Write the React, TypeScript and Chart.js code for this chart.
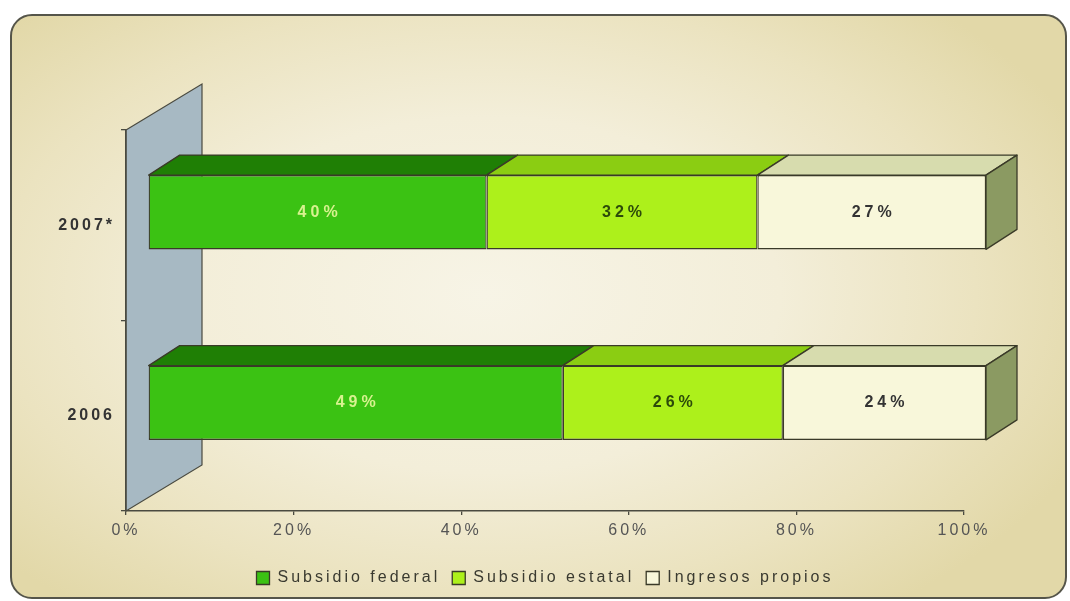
import React, { useEffect, useRef } from 'react';
import { Chart, registerables } from 'chart.js';

Chart.register(...registerables);

// ---- data ----
const categories = ['2007*', '2006'];
const subsidioFederal = [40, 49];
const subsidioEstatal = [32, 26];
const ingresosPropios = [27, 24];
const seriesNames = ['Subsidio federal', 'Subsidio estatal', 'Ingresos propios'];
const xTicks = [0, 20, 40, 60, 80, 100];

// ---- styles ----
const FRONT = ['#3bc213', '#adf01b', '#f8f7da'];
const TOP = ['#1f7f05', '#8bcd12', '#d7dcae'];
const SIDE = '#8b9a62';
const EDGE = '#3a3a28';
const LABEL_COLORS = ['#d8f290', '#2c4a0a', '#333333'];
const FONT = '"Liberation Sans", Arial, sans-serif';

const DX = 31;
const DY = 20;
const WALL_DX = 76;
const WALL_DY = 46;
const SHIFT_X = 22;
const SHIFT_Y = -13;

const rawSeries = [subsidioFederal, subsidioEstatal, ingresosPropios];
const totals = categories.map((_, i) => rawSeries.reduce((s, arr) => s + arr[i], 0));
const shares = rawSeries.map((arr) => arr.map((v, i) => (v / totals[i]) * 100));

const bars3d = {
  id: 'bars3d',
  beforeLayout(chart: any) {
    chart.ctx.letterSpacing = '3px';
  },
  beforeDraw(chart: any) {
    const ctx = chart.ctx;
    ctx.letterSpacing = '3px';
    const { top, bottom } = chart.chartArea;
    const x0 = chart.scales.x.getPixelForValue(0);
    ctx.save();
    ctx.beginPath();
    ctx.moveTo(x0, top);
    ctx.lineTo(x0 + WALL_DX, top - WALL_DY);
    ctx.lineTo(x0 + WALL_DX, bottom - WALL_DY);
    ctx.lineTo(x0, bottom);
    ctx.closePath();
    ctx.fillStyle = '#a7b9c3';
    ctx.fill();
    ctx.strokeStyle = '#4a4a40';
    ctx.lineWidth = 1.2;
    ctx.stroke();
    ctx.restore();
  },
  beforeDatasetsDraw(chart: any) {
    chart.ctx.save();
    chart.ctx.translate(SHIFT_X, SHIFT_Y);
  },
  afterDatasetsDraw(chart: any) {
    const ctx = chart.ctx;
    const n = chart.data.datasets.length;
    const labels: any[] = [];
    chart.data.datasets.forEach((ds: any, di: number) => {
      const meta = chart.getDatasetMeta(di);
      meta.data.forEach((bar: any, i: number) => {
        const p = bar.getProps(['x', 'y', 'base', 'height'], true);
        const t = p.y - p.height / 2;
        const b = p.y + p.height / 2;
        const l = Math.min(p.base, p.x);
        const r = Math.max(p.base, p.x);
        ctx.save();
        ctx.lineJoin = 'round';
        ctx.beginPath();
        ctx.moveTo(l, t);
        ctx.lineTo(r, t);
        ctx.lineTo(r + DX, t - DY);
        ctx.lineTo(l + DX, t - DY);
        ctx.closePath();
        ctx.fillStyle = TOP[di];
        ctx.fill();
        ctx.strokeStyle = EDGE;
        ctx.lineWidth = 1.3;
        ctx.stroke();
        if (di === n - 1) {
          ctx.beginPath();
          ctx.moveTo(r, t);
          ctx.lineTo(r + DX, t - DY);
          ctx.lineTo(r + DX, b - DY);
          ctx.lineTo(r, b);
          ctx.closePath();
          ctx.fillStyle = SIDE;
          ctx.fill();
          ctx.stroke();
        }
        ctx.restore();
        labels.push({ x: (l + r) / 2, y: p.y, text: ds.rawValues[i] + '%', color: LABEL_COLORS[di] });
      });
    });
    ctx.save();
    ctx.font = 'bold 16px ' + FONT;
    ctx.letterSpacing = '4px';
    ctx.textAlign = 'center';
    ctx.textBaseline = 'middle';
    labels.forEach((lb) => {
      ctx.fillStyle = lb.color;
      ctx.fillText(lb.text, lb.x + 2, lb.y);
    });
    ctx.restore();
    ctx.restore();
  },
};

export default function App() {
  const canvasRef = useRef<HTMLCanvasElement | null>(null);

  useEffect(() => {
    if (!canvasRef.current) return;
    const chart = new Chart(canvasRef.current, {
      type: 'bar',
      data: {
        labels: categories,
        datasets: seriesNames.map((name, di) => ({
          label: name,
          data: shares[di],
          rawValues: rawSeries[di],
          backgroundColor: FRONT[di],
          borderColor: EDGE,
          borderWidth: 1.3,
          borderSkipped: false,
          barPercentage: 0.39,
          categoryPercentage: 1,
          clip: false,
        })) as any,
      },
      options: {
        indexAxis: 'y',
        animation: false,
        responsive: true,
        maintainAspectRatio: false,
        layout: { padding: { top: 130, right: 106, bottom: 5, left: 0 } },
        scales: {
          x: {
            stacked: true,
            min: 0,
            max: 100,
            afterBuildTicks: (scale: any) => {
              scale.ticks = xTicks.map((v) => ({ value: v }));
            },
            afterFit: (scale: any) => {
              scale.height = 47;
            },
            ticks: {
              callback: (v: any) => v + '%',
              font: { family: FONT, size: 16 },
              color: '#555555',
              padding: 6,
              maxRotation: 0,
            },
            grid: { drawOnChartArea: false, drawTicks: true, tickLength: 4, color: '#4a4a40', lineWidth: 1.3 },
            border: { display: true, color: '#4a4a40', width: 1.5 },
          },
          y: {
            stacked: true,
            afterFit: (scale: any) => {
              scale.width = 126;
            },
            ticks: {
              font: { family: FONT, size: 16, weight: 'bold' },
              color: '#333333',
              padding: 6,
            },
            grid: { display: true, drawOnChartArea: false, drawTicks: true, tickLength: 5, color: '#4a4a40', lineWidth: 1.3, offset: true },
            border: { display: true, color: '#4a4a40', width: 1.5 },
          },
        },
        plugins: {
          legend: {
            position: 'bottom',
            fullSize: false,
            labels: {
              boxWidth: 13,
              boxHeight: 13,
              padding: 12,
              font: { family: FONT, size: 16 },
              color: '#3a3a30',
            },
          },
          tooltip: { enabled: false },
        },
      } as any,
      plugins: [bars3d as any],
    });
    return () => chart.destroy();
  }, []);

  return (
    <div style={{ position: 'absolute', left: 0, top: 0, width: 1070, height: 601, background: '#ffffff' }}>
      <div
        style={{
          position: 'absolute',
          left: 10,
          top: 14,
          width: 1053,
          height: 581,
          border: '2px solid #55554a',
          borderRadius: 22,
          background:
            'radial-gradient(ellipse 62% 68% at 45% 48%, #f7f4e6 0%, #f3eed9 45%, #ebe3c0 75%, #e2d8a8 100%)',
        }}
      />
      <div style={{ position: 'absolute', left: 0, top: 0, width: 1070, height: 601 }}>
        <canvas ref={canvasRef} />
      </div>
    </div>
  );
}
